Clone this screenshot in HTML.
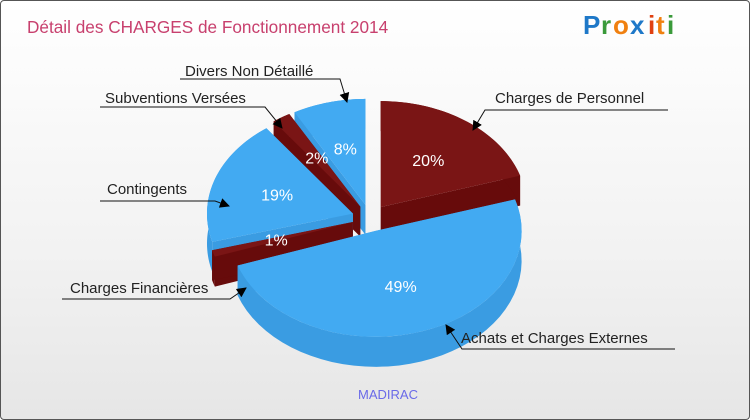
<!DOCTYPE html>
<html><head><meta charset="utf-8"><style>
html,body{margin:0;padding:0;width:750px;height:420px;overflow:hidden;}
#wrap{position:absolute;left:0;top:0;width:748px;height:418px;border:1px solid #555;border-radius:4px;background:linear-gradient(#ffffff,#f2f2f2 60%,#e6e6e6);}
svg{position:absolute;left:0;top:0;font-family:"Liberation Sans",sans-serif;}
</style></head><body>
<div id="wrap"></div>
<svg id="chart" width="750" height="420">
<defs><marker id="ah" markerWidth="10" markerHeight="10" refX="9" refY="5" orient="auto" markerUnits="userSpaceOnUse"><path d="M0,0 L10,5 L0,10 z" fill="#000"/></marker></defs>
<text x="27" y="33" font-size="17.2" fill="#c8406e">Détail des CHARGES de Fonctionnement 2014</text>
<g font-size="26" font-weight="bold" font-family="'Liberation Sans',sans-serif">
<text x="583" y="34" fill="#1e78c8">P</text><text x="601" y="34" fill="#3a9a3a">r</text><text x="613" y="34" fill="#f08010">o</text><text x="630" y="34" fill="#1e78c8">x</text><text x="648" y="34" fill="#e04010">i</text><text x="656" y="34" fill="#f08010">t</text><text x="667" y="34" fill="#3a9a3a">i</text>
</g>
<text x="388" y="399" font-size="13" fill="#6a6ae8" text-anchor="middle">MADIRAC</text>
<g id="slices"></g>
<g id="labels" font-size="15" fill="#222"></g>
</svg>
<script>
const categories=["Charges de Personnel","Achats et Charges Externes","Charges Financières","Contingents","Subventions Versées","Divers Non Détaillé"];
const values=[20,49,1,19,2,8];
const pctLabels=["20%","49%","1%","19%","2%","8%"];
const colorsTop=["#7a1515","#42aaf2","#7a1515","#42aaf2","#7a1515","#42aaf2"];
const colorsSide=["#670b0b","#3a9ce2","#670b0b","#3a9ce2","#670b0b","#3a9ce2"];
const cx=370,cy=218,rx=146,ry=106,depth=30,explode=18;
const NS="http://www.w3.org/2000/svg";
const g=document.getElementById('slices');
const total=values.reduce((a,b)=>a+b,0);
function P(t,r,ox,oy,dz){return [cx+ox+r*rx*Math.sin(t),cy+oy-r*ry*Math.cos(t)+dz];}
let a=0;const sl=[];
values.forEach((v,i)=>{const a0=a,a1=a+v/total*2*Math.PI;a=a1;const m=(a0+a1)/2;
sl.push({i,a0,a1,m,ox:explode*Math.sin(m),oy:-explode*0.75*Math.cos(m)});});
function arc(s,dz,from,to,n){let pts=[];for(let k=0;k<=n;k++){const t=from+(to-from)*k/n;pts.push(P(t,1,s.ox,s.oy,dz));}return pts;}
function mk(d,fill,name){const p=document.createElementNS(NS,'path');p.setAttribute('d',d);p.setAttribute('fill',fill);


g.appendChild(p);}
const order=sl.slice().sort((x,y)=>(-Math.cos(x.m))-(-Math.cos(y.m)));
order.forEach(s=>{const c=P(0,0,s.ox,s.oy,0),cb=P(0,0,s.ox,s.oy,depth);
[s.a0,s.a1].forEach(t=>{const e=P(t,1,s.ox,s.oy,0),eb=P(t,1,s.ox,s.oy,depth);
mk(`M${c}L${e}L${eb}L${cb}Z`,colorsSide[s.i],'slice-side-'+s.i);});
const top=arc(s,0,s.a0,s.a1,40),bot=arc(s,depth,s.a1,s.a0,40);
mk('M'+top.join('L')+'L'+bot.join('L')+'Z',colorsSide[s.i],'slice-wall-'+s.i);});
sl.forEach(s=>{const c=P(0,0,s.ox,s.oy,0);const pts=arc(s,0,s.a0,s.a1,60);
mk(`M${c}L`+pts.join('L')+'Z',colorsTop[s.i],'slice-'+categories[s.i].toLowerCase().replace(/[^a-z]+/g,'-'));
const lp=P(s.m,0.55,s.ox,s.oy,0);const t=document.createElementNS(NS,'text');
t.setAttribute('x',lp[0]);t.setAttribute('y',lp[1]+6);t.setAttribute('text-anchor','middle');t.setAttribute('fill','#fff');t.setAttribute('font-size','16');
t.textContent=pctLabels[s.i];


g.appendChild(t);});
const L=document.getElementById('labels');
const ann=[[0,495,103,"M668,110 L485,110 L473,130"],[1,461,343,"M675,349 L462,349 L446,325"],[2,70,293,"M62,299 L230,299 L246,288"],[3,107,194,"M100,201 L215,201 L229,206"],[4,105,103,"M100,107 L265,107 L282,128"],[5,185,76,"M180,79 L340,79 L347,102"]];
ann.forEach(([i,x,y,d])=>{const p=document.createElementNS(NS,'path');p.setAttribute('d',d);p.setAttribute('stroke','#111');p.setAttribute('fill','none');p.setAttribute('marker-end','url(#ah)');


L.appendChild(p);
const t=document.createElementNS(NS,'text');t.setAttribute('x',x);t.setAttribute('y',y);t.textContent=categories[i];


L.appendChild(t);});
</script>
</body></html>
